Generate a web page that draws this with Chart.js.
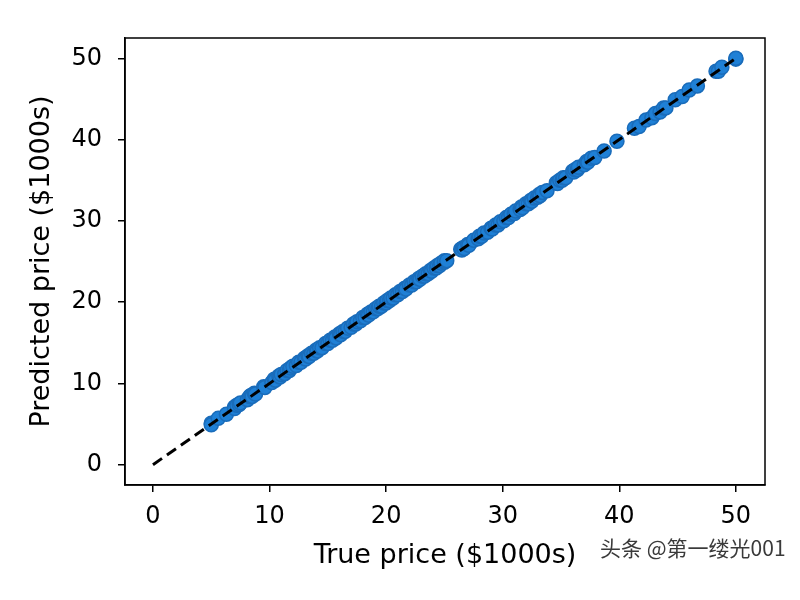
<!DOCTYPE html>
<html><head><meta charset="utf-8">
<script src="https://cdn.jsdelivr.net/npm/chart.js@4/dist/chart.umd.min.js"></script>
<style>html,body{margin:0;padding:0;background:#fff}#wrap{width:800px;height:600px}</style>
</head><body><div id="wrap"><canvas id="c" width="800" height="600"></canvas></div>
<script>
const truePrice = [5.0,5.0,5.6,6.3,7.0,7.0,7.2,7.4,7.5,8.1,8.3,8.4,8.5,8.7,8.8,9.5,9.6,10.2,10.4,10.5,10.8,10.9,11.0,11.3,11.5,11.7,11.8,12.0,12.3,12.5,12.7,13.0,13.1,13.3,13.4,13.6,13.8,14.0,14.1,14.3,14.5,14.8,15.0,15.2,15.4,15.6,15.7,16.0,16.1,16.3,16.5,16.7,17.0,17.2,17.4,17.5,17.8,18.0,18.2,18.4,18.5,18.7,18.9,19.1,19.3,19.4,19.6,19.8,20.0,20.1,20.3,20.4,20.6,20.8,21.0,21.2,21.4,21.6,21.7,22.0,22.2,22.4,22.6,22.8,22.9,23.1,23.3,23.4,23.6,23.8,23.9,24.1,24.3,24.4,24.6,24.7,25.0,25.0,25.2,26.4,26.5,26.6,26.7,27.0,27.1,27.5,27.9,28.0,28.2,28.4,28.7,29.0,29.1,29.4,29.6,29.8,30.1,30.3,30.5,30.7,31.0,31.1,31.5,31.6,31.7,32.0,32.2,32.4,32.5,32.7,33.0,33.1,33.2,33.4,33.8,34.6,34.7,34.9,35.1,35.2,35.4,36.0,36.1,36.2,36.4,36.5,37.0,37.2,37.3,37.6,37.9,38.7,39.8,41.3,41.7,42.3,42.8,43.1,43.5,43.8,44.0,44.8,45.4,46.0,46.7,48.3,48.5,48.8,50.0,50.0];
const predictedPrice = [5.1,4.9,5.7,6.2,7.1,6.9,7.3,7.4,7.6,8.0,8.4,8.5,8.4,8.8,8.7,9.6,9.5,10.1,10.5,10.4,10.9,10.8,11.1,11.2,11.6,11.6,11.9,12.1,12.2,12.6,12.6,13.1,13.0,13.4,13.3,13.7,13.7,14.1,14.0,14.4,14.4,14.9,14.9,15.3,15.3,15.7,15.6,16.1,16.0,16.4,16.4,16.8,16.9,17.3,17.3,17.6,17.7,18.1,18.1,18.5,18.4,18.8,18.8,19.2,19.2,19.5,19.5,19.9,19.9,20.2,20.2,20.5,20.5,20.9,20.9,21.3,21.3,21.7,21.6,22.1,22.1,22.5,22.5,22.9,22.8,23.2,23.2,23.5,23.5,23.9,23.8,24.2,24.2,24.5,24.5,24.8,24.9,25.1,25.1,26.5,26.4,26.7,26.6,27.1,27.0,27.6,27.8,28.1,28.1,28.5,28.6,29.1,29.0,29.5,29.5,29.9,30.0,30.4,30.4,30.8,30.9,31.2,31.4,31.7,31.6,32.1,32.1,32.5,32.4,32.8,32.9,33.2,33.1,33.5,33.7,34.7,34.6,35.0,35.0,35.3,35.3,36.1,36.0,36.3,36.3,36.6,36.9,37.3,37.2,37.7,37.8,38.6,39.8,41.4,41.6,42.4,42.7,43.2,43.4,43.9,43.9,44.9,45.3,46.1,46.6,48.4,48.4,48.9,49.9,50.0];
const idealLine = [0, 50];
const tickValues = [0, 10, 20, 30, 40, 50];
const xTitle = 'True price ($1000s)';
const yTitle = 'Predicted price ($1000s)';
const watermark = '头条 @第一缕光001';

const scatterPts = truePrice.map((t, i) => ({x: t, y: predictedPrice[i]}));
const linePts = idealLine.map(v => ({x: v, y: v}));

const frame = {
  id: 'frame',
  afterDraw(chart) {
    const {ctx, chartArea: a} = chart;
    ctx.save();
    ctx.strokeStyle = '#000';
    ctx.lineWidth = 1.5;
    ctx.strokeRect(a.left, a.top, a.right - a.left, a.bottom - a.top);
    ctx.fillStyle = '#3a3a3a';
    ctx.font = '21px "Noto Sans CJK SC"';
    ctx.textAlign = 'left';
    ctx.textBaseline = 'middle';
    ctx.fillText(watermark, 600, 548);
    ctx.restore();
  }
};

const tickFont = {family: 'DejaVu Sans', size: 24};
const titleFont = {family: 'DejaVu Sans', size: 27};

new Chart(document.getElementById('c'), {
  type: 'scatter',
  data: {
    datasets: [
      {type: 'line', data: linePts, borderColor: '#000', borderWidth: 3, borderDash: [11, 6], pointRadius: 0, fill: false, order: 0},
      {type: 'scatter', data: scatterPts, backgroundColor: '#1f80d6', borderColor: '#1a6cba', borderWidth: 1.5, pointRadius: 7, order: 1}
    ]
  },
  options: {
    responsive: false,
    animation: false,
    layout: {padding: {top: 38, right: 35, left: 22, bottom: 24}},
    plugins: {legend: {display: false}, tooltip: {enabled: false}},
    scales: {
      x: {
        type: 'linear', min: -2.4, max: 52.5,
        afterBuildTicks: s => { s.ticks = tickValues.map(v => ({value: v})); },
        afterFit: s => { s.height = 91; },
        grid: {drawOnChartArea: false, drawTicks: true, tickLength: 7, color: '#000', lineWidth: 1.5},
        border: {display: true, color: '#000', width: 1.5},
        ticks: {color: '#000', font: tickFont, padding: 10, maxRotation: 0},
        title: {display: true, text: xTitle, color: '#000', font: titleFont, padding: {top: 0}}
      },
      y: {
        type: 'linear', min: -2.5, max: 52.5,
        afterBuildTicks: s => { s.ticks = tickValues.map(v => ({value: v})); },
        afterFit: s => { s.width = 103; },
        grid: {drawOnChartArea: false, drawTicks: true, tickLength: 7, color: '#000', lineWidth: 1.5},
        border: {display: true, color: '#000', width: 1.5},
        ticks: {color: '#000', font: tickFont, padding: 16},
        title: {display: true, text: yTitle, color: '#000', font: titleFont, padding: {bottom: 0}}
      }
    }
  },
  plugins: [frame]
});
</script></body></html>
